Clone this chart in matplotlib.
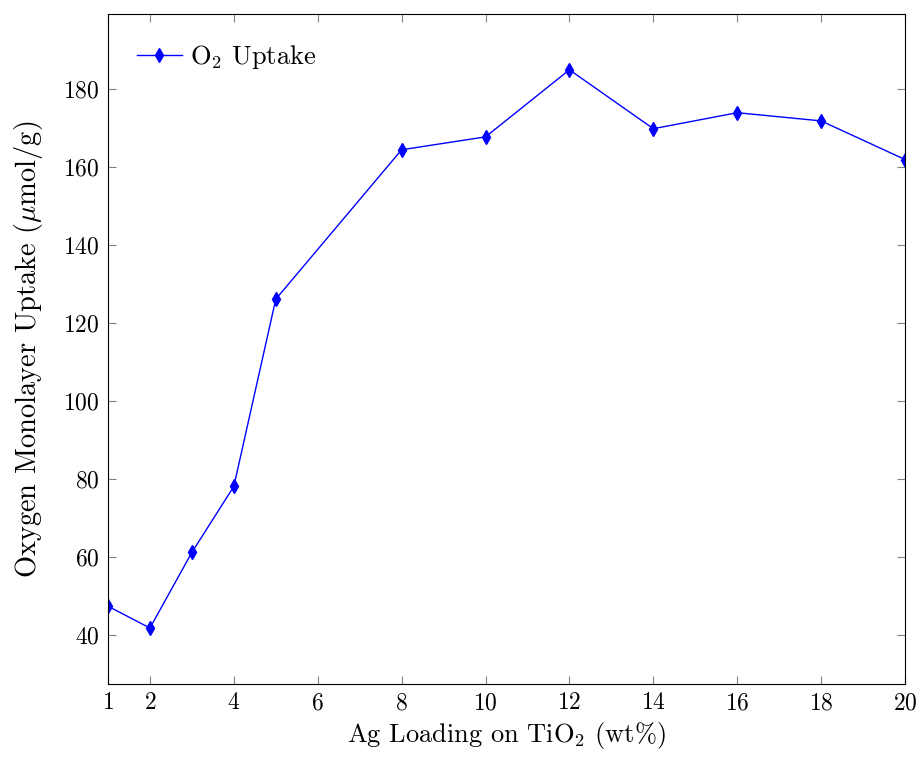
import matplotlib.pyplot as plt

plt.rcParams['font.family'] = 'cmr10'
plt.rcParams['mathtext.fontset'] = 'cm'
plt.rcParams['axes.formatter.use_mathtext'] = True

# Ag loading (wt%) and O2 monolayer uptake (umol/g)
ag_loading = [1, 2, 3, 4, 5, 8, 10, 12, 14, 16, 18, 20]
o2_uptake = [47.4, 41.8, 61.2, 78.1, 126.1, 164.4, 167.7, 184.9, 169.8, 173.9, 171.8, 161.9]
x_ticks = [1, 2, 4, 6, 8, 10, 12, 14, 16, 18, 20]
y_ticks = [40, 60, 80, 100, 120, 140, 160, 180]

fig = plt.figure(figsize=(9.23, 7.59), dpi=100)
ax = fig.add_axes([0.117, 0.099, 0.8635, 0.8826])

ax.plot(ag_loading, o2_uptake, color='blue', lw=1.0, marker='d',
        markersize=7, label=r'O$_2$ Uptake')

ax.set_xlim(1, 20)
span = max(o2_uptake) - min(o2_uptake)
ax.set_ylim(min(o2_uptake) - 0.1 * span, max(o2_uptake) + 0.1 * span)
ax.set_xticks(x_ticks)
ax.set_yticks(y_ticks)

ax.tick_params(direction='in', length=6, width=0.8, color='#808080',
               top=True, right=True, labelsize=17, pad=6)
for s in ax.spines.values():
    s.set_linewidth(0.8)

ax.set_xlabel(r'Ag Loading on TiO$_2$ (wt%)', fontsize=19, labelpad=4)
ax.set_ylabel(r'Oxygen Monolayer Uptake ($\mu$mol/g)', fontsize=20.5, labelpad=13)

ax.legend(loc='upper left', frameon=False, fontsize=19, handlelength=1.7,
          borderaxespad=0.7, handletextpad=0.3)

fig.savefig('out.png', dpi=100)
